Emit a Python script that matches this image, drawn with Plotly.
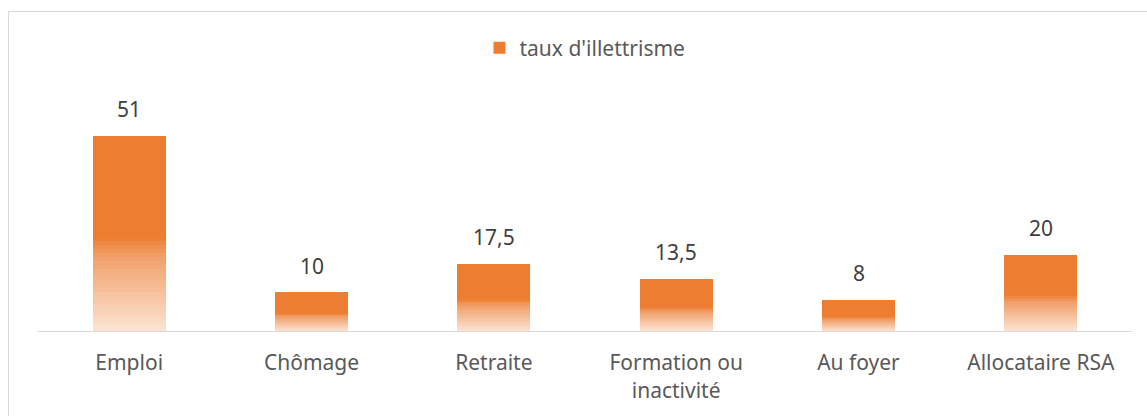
import plotly.graph_objects as go

categories = ["Emploi", "Chômage", "Retraite", "Formation ou<br>inactivité", "Au foyer", "Allocataire RSA"]
values = [51, 10, 17.5, 13.5, 8, 20]
value_labels = ["51", "10", "17,5", "13,5", "8", "20"]
series_name = "taux d'illettrisme"

W, H = 1147, 416
ML, MR, MT, MB = 38, 15, 102, 85
PW = W - ML - MR
PH = H - MT - MB

ORANGE = (237, 125, 49)
MID = (241, 160, 106)
PALE = (251, 228, 212)


def mix(a, b, t):
    return "rgb(%d,%d,%d)" % tuple(round(a[i] + (b[i] - a[i]) * t) for i in range(3))


def grad_color(f):
    if f >= 0.48:
        return "rgb(%d,%d,%d)" % ORANGE
    if f >= 0.38:
        return mix(MID, ORANGE, (f - 0.38) / 0.10)
    return mix(PALE, MID, f / 0.38)


N = 50
fig = go.Figure()
for k in range(N):
    f = (k + 0.5) / N
    last = k == N - 1
    fig.add_trace(go.Bar(
        x=categories,
        y=[v / N for v in values],
        marker=dict(color=grad_color(f), line=dict(width=0)),
        width=0.4,
        name=series_name,
        showlegend=last,
        hoverinfo="skip",
    ))

annotations = [
    dict(x=c, y=v, xref="x", yref="y", text=t, showarrow=False,
         yanchor="bottom", yshift=11,
         font=dict(size=21, color="#404040", family="Noto Sans"))
    for c, v, t in zip(categories, values, value_labels)
]

fig.update_layout(
    width=W, height=H,
    margin=dict(l=ML, r=MR, t=MT, b=MB),
    barmode="stack",
    bargap=0.6,
    plot_bgcolor="white",
    paper_bgcolor="white",
    font=dict(family="Noto Sans", size=21, color="#595959"),
    legend=dict(orientation="h", x=0.5, xanchor="center", y=(H - MB - 48) / PH,
                yanchor="middle", font=dict(size=21, color="#595959"), itemwidth=30),
    showlegend=True,
    xaxis=dict(showline=True, linecolor="#D9D9D9", linewidth=1, ticks="",
               tickfont=dict(size=21, color="#595959"), showgrid=False, fixedrange=True,
               ticklabelstandoff=13),
    yaxis=dict(range=[0, 60], visible=False, showgrid=False, zeroline=False, fixedrange=True),
    annotations=annotations,
    shapes=[dict(type="rect", xref="paper", yref="paper",
                 x0=(8.5 - ML) / PW, x1=(1170 - ML) / PW,
                 y0=(H - MB - 440) / PH, y1=(H - MB - 11.5) / PH,
                 line=dict(color="#D9D9D9", width=1), layer="below")],
)

fig.write_html("out.html", config={"displayModeBar": False},
               post_script="document.body.style.margin='0';")
